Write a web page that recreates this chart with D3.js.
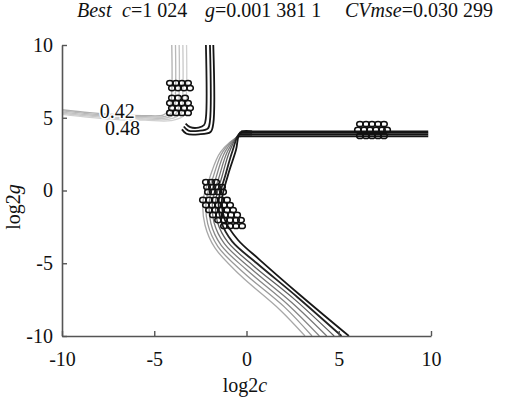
<!DOCTYPE html>
<html>
<head>
<meta charset="utf-8">
<script src="https://cdn.jsdelivr.net/npm/d3@7"></script>
</head>
<body style="margin:0">
<svg id="chart"></svg>
<script>
// grid-search contour (log2c, log2g) -> CV mse
const xTicks = [-10, -5, 0, 5, 10];
const yTicks = [-10, -5, 0, 5, 10];

// upper-left L shaped contours
const leftLevels = [0.42, 0.44, 0.46, 0.48, 0.50];
const leftLines = [
  [[-10, 5.55], [-8.5, 5.35], [-7, 5.2], [-5.5, 5.15], [-4.5, 5.2], [-4.15, 5.6], [-4.05, 6.8], [-4.05, 10]],
  [[-10, 5.47], [-8.5, 5.27], [-7, 5.12], [-5.5, 5.07], [-4.4, 5.1], [-3.95, 5.5], [-3.85, 6.8], [-3.85, 10]],
  [[-10, 5.39], [-8.5, 5.19], [-7, 5.04], [-5.5, 4.99], [-4.3, 5.0], [-3.75, 5.4], [-3.65, 6.8], [-3.65, 10]],
  [[-10, 5.31], [-8.5, 5.11], [-7, 4.96], [-5.5, 4.91], [-4.2, 4.9], [-3.55, 5.3], [-3.45, 6.8], [-3.45, 10]],
  [[-10, 5.23], [-8.5, 5.03], [-7, 4.88], [-5.5, 4.83], [-4.1, 4.8], [-3.35, 5.2], [-3.25, 6.8], [-3.25, 10]]
];

// dark hook next to it
const hookLevels = [0.05, 0.04, 0.035];
const hookLines = [
  [[-2.2, 10], [-2.2, 5.0], [-2.3, 4.5], [-2.6, 4.32], [-3.05, 4.35], [-3.3, 4.6]],
  [[-1.98, 10], [-1.98, 4.8], [-2.1, 4.25], [-2.6, 4.1], [-3.15, 4.12], [-3.4, 4.4]],
  [[-1.8, 10], [-1.8, 4.6], [-1.95, 4.02], [-2.6, 3.86], [-3.25, 3.9], [-3.5, 4.2]]
];

// fan going down to the lower right
const fanLevels = [0.40, 0.36, 0.32, 0.28, 0.22, 0.07, 0.04];
const fanLines = [
  [[0.3, 3.72], [-0.46, 3.66], [-1.40, 2.65], [-2.0, 0.86], [-2.35, -0.65], [-2.25, -2.37], [-1.71, -3.95], [-0.35, -5.81], [1.82, -8.21], [3.17, -10]],
  [[0.3, 3.76], [-0.44, 3.70], [-1.28, 2.67], [-1.82, 0.88], [-2.18, -0.65], [-2.1, -2.3], [-1.55, -3.85], [-0.15, -5.65], [2.05, -8.0], [3.55, -10]],
  [[0.3, 3.82], [-0.42, 3.76], [-1.15, 2.69], [-1.65, 0.9], [-2.0, -0.65], [-1.93, -2.25], [-1.38, -3.75], [0.05, -5.5], [2.25, -7.85], [3.95, -10]],
  [[0.3, 3.88], [-0.40, 3.82], [-1.02, 2.71], [-1.48, 0.95], [-1.83, -0.65], [-1.76, -2.2], [-1.2, -3.65], [0.22, -5.35], [2.45, -7.7], [4.35, -10]],
  [[0.3, 3.94], [-0.38, 3.88], [-0.9, 2.73], [-1.32, 1.0], [-1.66, -0.65], [-1.58, -2.15], [-1.0, -3.57], [0.4, -5.2], [2.62, -7.5], [4.75, -10]],
  [[0.3, 4.0], [-0.36, 3.94], [-0.75, 2.75], [-1.15, 1.03], [-1.5, -0.65], [-1.38, -2.1], [-0.78, -3.5], [0.56, -5.0], [2.78, -7.35], [5.15, -10]],
  [[0.3, 4.06], [-0.33, 4.0], [-0.57, 2.78], [-1.0, 1.07], [-1.33, -0.65], [-1.17, -2.03], [-0.46, -3.40], [0.73, -4.78], [2.9, -7.18], [5.55, -10]]
];

// flat ridge at log2g ~ 3.9
const bandLevels = [0.035, 0.035, 0.035, 0.035];
const bandLines = [
  [[-0.42, 3.72], [9.85, 3.72]],
  [[-0.38, 3.84], [9.85, 3.84]],
  [[-0.34, 3.96], [9.85, 3.96]],
  [[-0.3, 4.06], [9.85, 4.06]]
];

// inline contour labels
const labelLevels = [0.42, 0.48];
const labelAt = [[-7.95, 4.95], [-7.67, 3.82]];

// grid points near the optimum (markers)
const bestPoints = [
  [-4.15, 7.39], [-3.82, 7.39], [-3.50, 7.39], [-3.17, 7.39],
  [-4.04, 7.04], [-3.71, 7.04], [-3.39, 7.04], [-3.06, 7.04],
  [-4.04, 6.36], [-3.71, 6.36], [-3.33, 6.36],
  [-4.15, 6.01], [-3.82, 6.01], [-3.50, 6.01], [-3.17, 6.01],
  [-4.04, 5.67], [-3.71, 5.67], [-3.39, 5.67], [-3.06, 5.67],
  [-4.15, 5.33], [-3.82, 5.33], [-3.50, 5.33], [-3.17, 5.33],

  [-2.20, 0.58], [-1.92, 0.58], [-1.65, 0.58],
  [-2.14, 0.24], [-1.87, 0.24], [-1.60, 0.24], [-1.33, 0.24],
  [-2.09, -0.10], [-1.82, -0.10], [-1.54, -0.10], [-1.27, -0.10],
  [-2.36, -0.65], [-2.03, -0.65], [-1.71, -0.65], [-1.38, -0.65], [-1.06, -0.65],
  [-2.20, -1.00], [-1.87, -1.00], [-1.54, -1.00], [-1.22, -1.00], [-0.89, -1.00],
  [-2.03, -1.34], [-1.71, -1.34], [-1.38, -1.34], [-1.06, -1.34], [-0.73, -1.34],
  [-1.82, -1.68], [-1.49, -1.68], [-1.17, -1.68], [-0.84, -1.68], [-0.51, -1.68],
  [-1.54, -2.03], [-1.22, -2.03], [-0.89, -2.03], [-0.57, -2.03], [-0.30, -2.03],
  [-1.22, -2.44], [-0.89, -2.44], [-0.57, -2.44], [-0.24, -2.44],

  [6.15, 4.57], [6.48, 4.57], [6.80, 4.57], [7.13, 4.57], [7.45, 4.57],
  [6.04, 4.16], [6.37, 4.16], [6.69, 4.16], [7.02, 4.16], [7.34, 4.16], [7.62, 4.16],
  [6.15, 3.75], [6.48, 3.75], [6.80, 3.75], [7.13, 3.75], [7.45, 3.75]
];

const FONT = '"Times New Roman"';
const width = 507, height = 406;
const svg = d3.select("#chart")
  .attr("width", width).attr("height", height)
  .attr("font-family", FONT);

const x = d3.scaleLinear().domain([-10, 10]).range([62, 431]);
const y = d3.scaleLinear().domain([-10, 10]).range([336, 45]);
const shade = d3.scaleLinear().domain([0.035, 0.5]).range(["#151515", "#d0d0d0"]);

svg.append("defs").append("clipPath").attr("id", "plot")
  .append("rect").attr("x", 62).attr("y", 45).attr("width", 369).attr("height", 291);

const line = d3.line()
  .x(d => x(d[0]))
  .y(d => y(d[1]))
  .curve(d3.curveCatmullRom.alpha(0.5));

const contours = [];
leftLines.forEach((pts, i) => contours.push({ level: leftLevels[i], pts }));
fanLines.forEach((pts, i) => contours.push({ level: fanLevels[i], pts }));
hookLines.forEach((pts, i) => contours.push({ level: hookLevels[i], pts }));
bandLines.forEach((pts, i) => contours.push({ level: bandLevels[i], pts }));

const plot = svg.append("g").attr("clip-path", "url(#plot)");

plot.selectAll("path.contour")
  .data(contours)
  .join("path")
  .attr("class", "contour")
  .attr("d", d => line(d.pts))
  .attr("fill", "none")
  .attr("stroke", d => shade(d.level))
  .attr("stroke-width", d => d.level < 0.1 ? 1.8 : 1.3);

// contour labels, with a white halo that cuts the line
svg.selectAll("text.clabel")
  .data(labelLevels)
  .join("text")
  .attr("class", "clabel")
  .attr("x", (d, i) => x(labelAt[i][0]))
  .attr("y", (d, i) => y(labelAt[i][1]))
  .attr("font-family", FONT)
  .attr("font-size", 20)
  .attr("fill", "#111")
  .attr("stroke", "#fff")
  .attr("stroke-width", 3)
  .attr("paint-order", "stroke")
  .text(d => d.toFixed(2));

plot.selectAll("ellipse.pt")
  .data(bestPoints)
  .join("ellipse")
  .attr("class", "pt")
  .attr("cx", d => x(d[0]))
  .attr("cy", d => y(d[1]))
  .attr("rx", 3.3)
  .attr("ry", 2.6)
  .attr("fill", "none")
  .attr("stroke", "#111")
  .attr("stroke-width", 1.5);

// axes (only left + bottom, ticks inside)
const xAxis = d3.axisBottom(x).tickValues(xTicks).tickFormat(d => String(d))
  .tickSize(-5).tickSizeOuter(0).tickPadding(16);
const yAxis = d3.axisLeft(y).tickValues(yTicks).tickFormat(d => String(d))
  .tickSize(-5).tickSizeOuter(0).tickPadding(9);

const gx = svg.append("g").attr("transform", "translate(0,336)").call(xAxis);
const gy = svg.append("g").attr("transform", "translate(62,0)").call(yAxis);

[gx, gy].forEach(g => {
  g.attr("font-family", FONT).attr("font-size", 20);
  g.select(".domain").attr("stroke", "#555").attr("stroke-width", 1.6);
  g.selectAll(".tick line").attr("stroke", "#555").attr("stroke-width", 1.4);
  g.selectAll(".tick text").attr("font-family", FONT).attr("font-size", 20).attr("fill", "#111");
});

// axis titles
const xt = svg.append("text")
  .attr("x", 245).attr("y", 392)
  .attr("text-anchor", "middle")
  .attr("font-family", FONT)
  .attr("font-size", 20).attr("fill", "#111");
xt.append("tspan").text("log2");
xt.append("tspan").attr("font-style", "italic").text("c");

const yt = svg.append("text")
  .attr("transform", "translate(20,207) rotate(-90)")
  .attr("text-anchor", "middle")
  .attr("font-family", FONT)
  .attr("font-size", 20).attr("fill", "#111");
yt.append("tspan").text("log2");
yt.append("tspan").attr("font-style", "italic").text("g");

// title
const title = svg.append("text").attr("y", 17)
  .attr("font-family", FONT)
  .attr("font-size", 20).attr("fill", "#111");
title.append("tspan").attr("x", 77).attr("font-style", "italic").text("Best");
title.append("tspan").attr("x", 122).attr("font-style", "italic").text("c");
title.append("tspan").text("=1 024");
title.append("tspan").attr("x", 205).attr("font-style", "italic").text("g");
title.append("tspan").text("=0.001 381 1");
title.append("tspan").attr("x", 345).attr("font-style", "italic").text("CVmse");
title.append("tspan").text("=0.030 299");
</script>
</body>
</html>
